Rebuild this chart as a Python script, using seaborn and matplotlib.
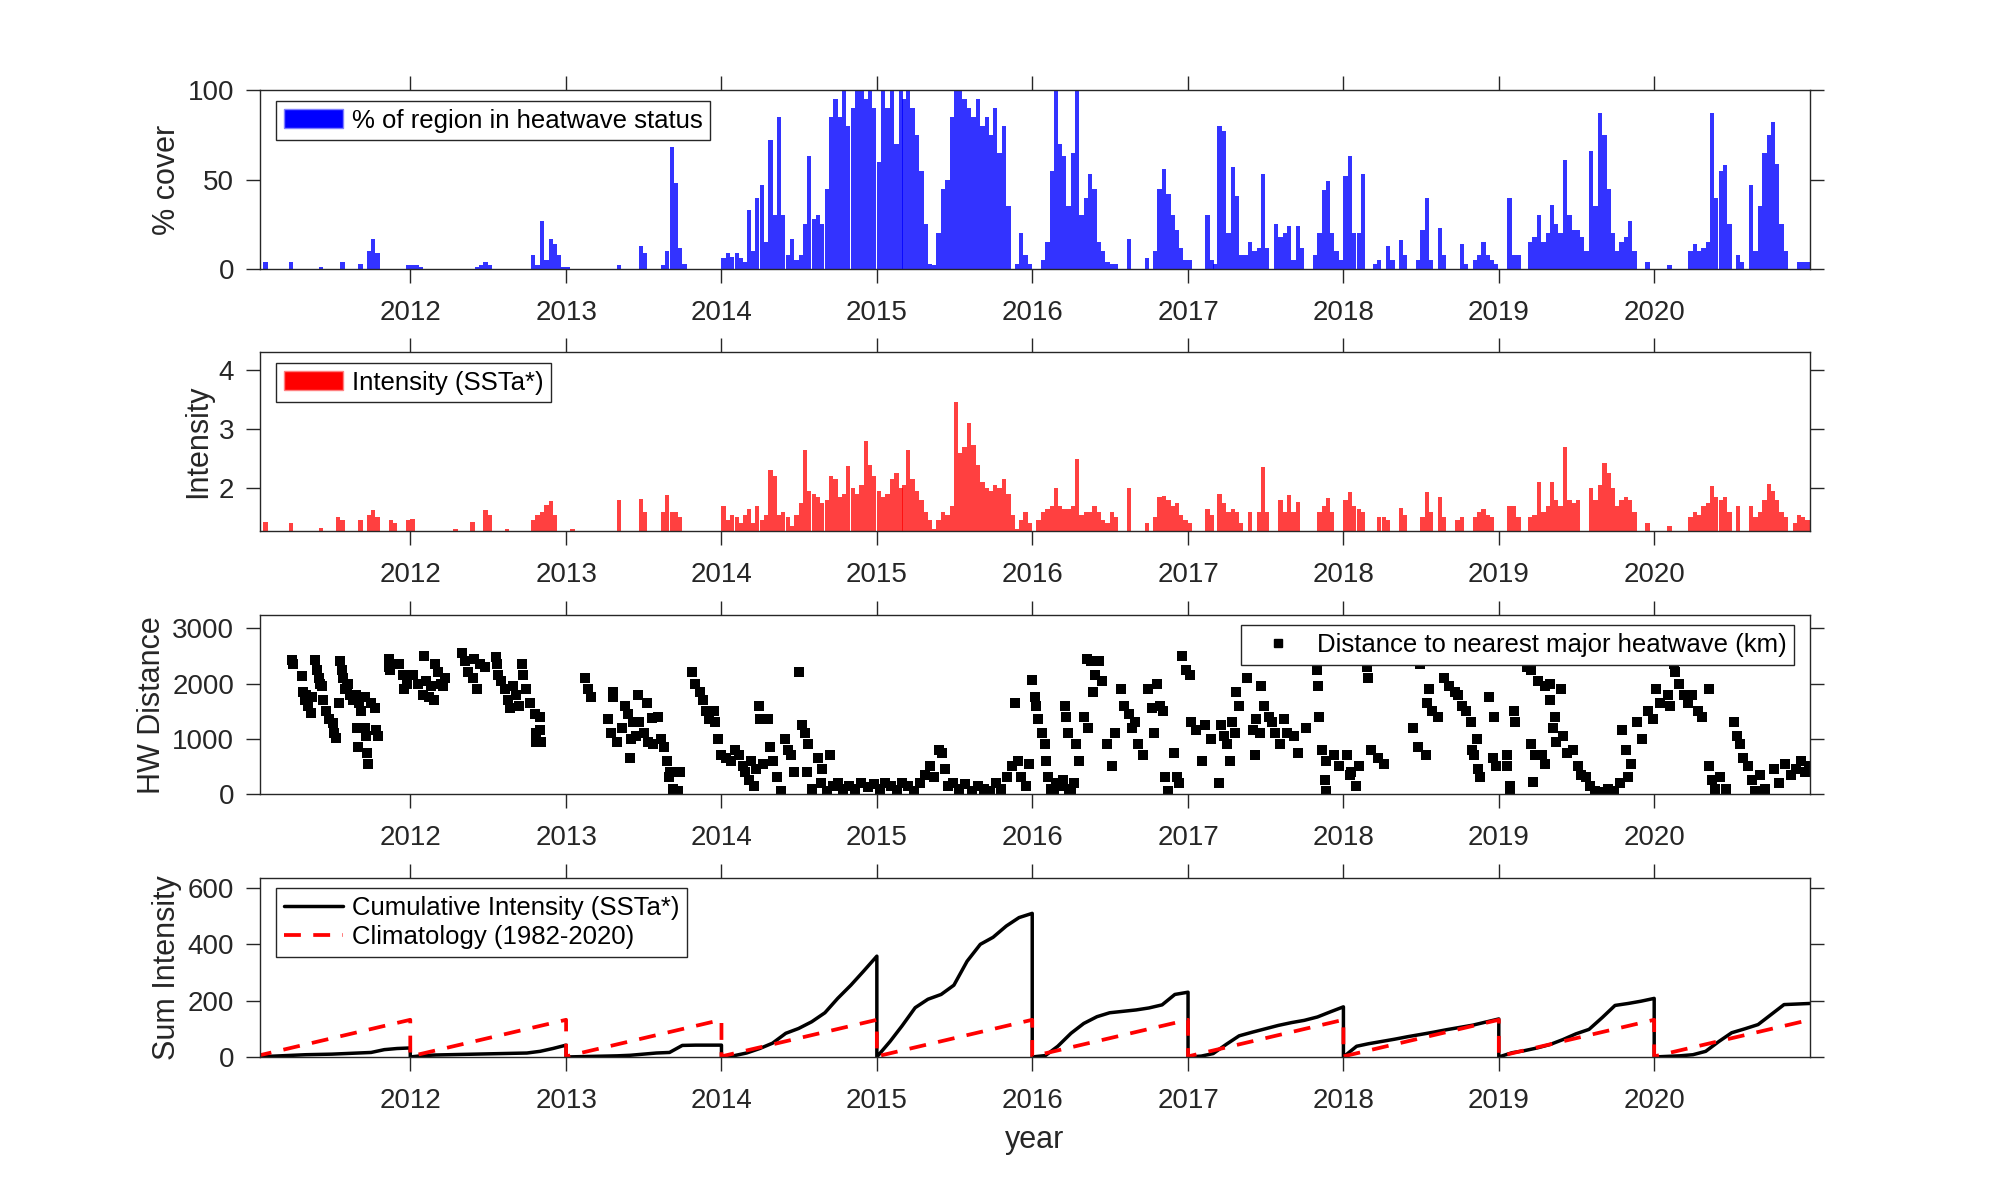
import numpy as np
import pandas as pd
import matplotlib
matplotlib.use("Agg")
import matplotlib.pyplot as plt
from matplotlib.patches import Patch
from matplotlib.lines import Line2D
import seaborn as sns

sns.set_theme(style="ticks")
plt.rcParams["font.family"] = ["Liberation Sans", "DejaVu Sans"]
plt.rcParams.update({"axes.edgecolor": "#262626", "xtick.color": "#262626",
                     "ytick.color": "#262626", "text.color": "#262626",
                     "axes.labelcolor": "#262626", "axes.linewidth": 1.0})

# ── DATA ───────────────────────────────────────────────────────
years = list(range(2011, 2021))

# % of region in heatwave status, 10-day (dekad) maxima, 36 per year
cover_2011 = [0,0,4,0,0,0, 0,0,4,0,0,0, 0,0,0,1,0,0, 0,0,4,0,0,0, 3,0,10,17,9,0, 0,0,0,0,0,2]
cover_2012 = [2,2,1,0,0,0, 0,0,0,0,0,0, 0,0,0,1,2,4, 2,0,0,0,0,0, 0,0,0,0,8,2, 27,5,17,14,8,1]
cover_2013 = [1,0,0,0,0,0, 0,0,0,0,0,0, 2,0,0,0,0,13, 9,0,0,0,2,10, 68,48,12,3,0,0, 0,0,0,0,0,0]
cover_2014 = [6,9,7,9,6,4, 33,10,40,47,15,72, 30,85,30,8,17,5, 8,25,63,28,30,25, 45,85,95,85,100,80, 90,100,100,95,100,90]
cover_2015 = [60,100,90,100,70,100, 95,100,90,75,55,25, 3,2,20,45,50,85, 100,100,95,90,85,95, 80,85,75,90,65,80, 35,0,3,20,8,3]
cover_2016 = [0,0,5,15,55,100, 70,63,35,65,100,30, 40,53,45,15,10,4, 3,3,0,0,17,0, 0,0,6,0,10,45, 56,42,30,22,12,5]
cover_2017 = [5,0,0,0,30,5, 3,80,77,20,57,41, 8,8,15,10,12,53, 12,0,25,18,20,24, 5,24,12,0,0,8, 20,44,49,20,10,5]
cover_2018 = [52,63,20,20,53,0, 0,3,5,0,13,5, 0,16,8,0,0,5, 22,40,5,0,23,8, 0,0,0,14,3,0, 5,8,15,8,5,3]
cover_2019 = [0,0,40,8,8,0, 0,15,18,30,15,20, 36,25,20,61,30,22, 22,18,10,66,35,87, 75,45,20,10,15,18, 27,10,0,0,4,0]
cover_2020 = [0,0,0,2,0,0, 0,0,10,14,10,12, 15,87,40,55,58,25, 0,8,4,0,47,10, 35,65,75,82,59,25, 10,0,0,4,4,4]

# heatwave intensity (SSTa*), dekad maxima, 0 = no heatwave
int_2011 = [0,0,1.42,0,0,0, 0,0,1.4,0,0,0, 0,0,0,1.32,0,0, 0,1.5,1.45,0,0,0, 1.45,0,1.55,1.63,1.5,0, 0,1.45,1.4,0,0,1.45]
int_2012 = [1.48,0,0,0,0,0, 0,0,0,0,1.3,0, 0,0,1.42,0,0,1.63, 1.55,0,0,0,1.3,0, 0,0,0,0,1.45,1.55, 1.6,1.72,1.78,1.55,0,0]
int_2013 = [0,1.3,0,0,0,0, 0,0,0,0,0,0, 1.8,0,0,0,0,1.82, 1.6,0,0,0,1.6,1.88, 1.6,1.6,1.5,0,0,0, 0,0,0,0,0,0]
int_2014 = [1.7,1.45,1.55,1.5,1.4,1.55, 1.65,1.4,1.7,1.45,1.55,2.3, 2.2,1.55,1.6,1.5,1.35,1.55,
            1.75,2.65,1.95,1.9,1.85,1.75, 1.8,2.2,2.15,1.85,1.9,2.37, 2.0,1.9,2.05,2.8,2.4,2.2]
int_2015 = [1.95,1.85,1.9,2.15,2.25,2.0, 2.05,2.64,2.15,1.95,1.8,1.6, 1.45,1.3,1.45,1.6,1.55,1.7,
            3.46,2.6,2.7,3.11,2.74,2.4, 2.1,2.0,1.95,2.05,2.0,2.15, 1.9,1.55,1.3,1.45,1.6,1.4]
int_2016 = [0,1.45,1.6,1.65,1.7,2.0, 1.7,1.65,1.65,1.7,2.5,1.55, 1.6,1.6,1.7,1.6,1.45,1.4,
            1.6,1.5,0,0,2.0,0, 0,0,1.4,0,1.5,1.85, 1.87,1.8,1.7,1.75,1.55,1.45]
int_2017 = [1.4,0,0,0,1.65,1.55, 0,1.9,1.75,1.6,1.65,1.6, 1.4,0,1.6,0,1.6,2.36,
            1.6,0,0,1.79,1.6,1.89, 1.6,1.76,0,0,0,0, 1.6,1.7,1.83,1.6,0,0]
int_2018 = [1.79,1.93,1.7,1.65,1.6,0, 0,0,1.5,1.5,1.45,0, 0,1.66,1.55,0,0,0,
            1.5,1.93,1.6,0,1.85,1.5, 0,0,1.45,1.5,0,0, 1.5,1.6,1.65,1.55,1.5,0]
int_2019 = [0,0,1.7,1.7,1.5,0, 0,1.5,1.55,2.1,1.6,1.7, 2.1,1.8,1.7,2.7,1.8,1.75,
            1.8,0,0,2.0,1.8,2.05, 2.42,2.25,2.0,1.7,1.8,1.85, 1.8,1.6,0,0,1.4,0]
int_2020 = [0,0,0,1.35,0,0, 0,0,1.5,1.6,1.55,1.7, 1.75,2.03,1.85,1.8,1.85,1.6,
            0,1.7,0,0,1.7,1.5, 1.6,1.8,2.07,1.95,1.8,1.6, 1.5,0,1.4,1.55,1.5,1.45]

# distance to nearest major heatwave: decimal year, km
hw_t = [2011.24,2011.245,2011.30,2011.31,2011.32,2011.33,2011.34,2011.36,2011.37,2011.39,2011.40,2011.41,2011.42,
        2011.43,2011.44,2011.46,2011.48,2011.50,2011.51,2011.52,2011.54,2011.55,2011.56,2011.57,2011.58,2011.59,
        2011.60,2011.61,2011.63,2011.65,2011.66,2011.665,2011.67,2011.68,2011.71,2011.71,2011.715,2011.72,2011.725,
        2011.75,2011.77,2011.78,2011.79,
        2011.86,2011.865,2011.87,2011.93,2011.95,2011.96,2011.98,2012.02,2012.05,2012.08,2012.09,2012.10,2012.12,
        2012.13,2012.15,2012.16,2012.18,2012.20,2012.21,2012.22,2012.33,2012.35,2012.37,2012.40,2012.41,2012.43,
        2012.45,2012.48,2012.55,2012.555,2012.56,2012.58,2012.61,2012.63,2012.64,2012.66,2012.68,2012.70,2012.72,
        2012.725,2012.74,2012.77,2012.80,2012.805,2012.81,2012.83,2012.835,2012.84,
        2013.12,2013.14,2013.16,2013.27,2013.29,2013.30,2013.305,2013.33,2013.36,2013.38,2013.40,2013.41,2013.42,
        2013.43,2013.45,2013.46,2013.47,2013.50,2013.52,2013.53,2013.55,2013.56,2013.59,2013.61,2013.63,2013.65,
        2013.66,2013.67,2013.69,2013.72,2013.73,
        2013.81,2013.83,2013.86,2013.88,2013.90,2013.92,2013.95,2013.96,2013.98,2014.00,2014.03,2014.06,2014.09,
        2014.11,2014.14,2014.15,2014.18,2014.19,2014.21,2014.22,2014.24,2014.245,2014.27,2014.30,2014.31,2014.33,
        2014.36,2014.38,2014.41,2014.43,2014.45,2014.47,2014.50,2014.52,2014.54,2014.55,2014.56,2014.58,2014.62,
        2014.64,2014.65,2014.68,2014.70,2014.72,2014.75,2014.78,2014.82,2014.86,2014.90,2014.94,2014.98,
        2015.02,2015.05,2015.09,2015.13,2015.16,2015.20,2015.24,2015.28,2015.31,2015.34,2015.37,2015.40,2015.42,
        2015.44,2015.46,2015.49,2015.53,2015.57,2015.61,2015.65,2015.69,2015.73,2015.77,2015.80,2015.84,2015.87,
        2015.89,2015.91,2015.93,2015.96,2015.98,
        2016.00,2016.02,2016.025,2016.04,2016.06,2016.08,2016.09,2016.10,2016.12,2016.14,2016.15,2016.17,2016.20,
        2016.21,2016.215,2016.23,2016.235,2016.25,2016.27,2016.28,2016.30,2016.33,2016.35,2016.36,2016.38,2016.39,
        2016.40,2016.43,2016.45,2016.48,2016.51,2016.53,2016.57,2016.59,2016.62,2016.64,2016.66,2016.68,2016.71,
        2016.74,2016.77,2016.78,2016.80,2016.82,2016.84,2016.85,2016.87,2016.91,2016.93,2016.94,2016.96,2016.99,
        2017.01,2017.02,2017.05,2017.09,2017.11,2017.15,2017.20,2017.21,2017.23,2017.25,2017.27,2017.28,2017.30,
        2017.31,2017.33,2017.38,2017.42,2017.43,2017.44,2017.46,2017.47,2017.49,2017.52,2017.54,2017.56,2017.59,
        2017.62,2017.64,2017.68,2017.71,2017.76,2017.83,2017.835,2017.84,2017.86,2017.88,2017.885,2017.89,2017.94,
        2017.97,
        2018.02,2018.04,2018.05,2018.08,2018.10,2018.15,2018.155,2018.18,2018.22,2018.26,2018.45,2018.48,2018.49,
        2018.53,2018.54,2018.55,2018.57,2018.61,2018.65,2018.68,2018.72,2018.74,2018.76,2018.79,2018.82,2018.83,
        2018.84,2018.86,2018.865,2018.88,2018.94,2018.96,2018.97,2018.98,
        2019.05,2019.055,2019.07,2019.075,2019.10,2019.105,2019.14,2019.18,2019.21,2019.21,2019.22,2019.23,2019.25,
        2019.28,2019.30,2019.30,2019.33,2019.33,2019.35,2019.36,2019.37,2019.40,2019.41,2019.44,2019.48,2019.51,
        2019.53,2019.56,2019.59,2019.62,2019.66,2019.70,2019.74,2019.78,2019.79,2019.82,2019.83,2019.85,2019.89,
        2019.92,2019.96,2019.99,
        2020.01,2020.04,2020.09,2020.10,2020.13,2020.135,2020.16,2020.19,2020.22,2020.24,2020.28,2020.31,2020.35,
        2020.35,2020.37,2020.39,2020.42,2020.46,2020.51,2020.53,2020.55,2020.57,2020.60,2020.63,2020.65,2020.68,
        2020.71,2020.77,2020.80,2020.84,2020.88,2020.91,2020.94,2020.97,2020.995]
hw_km = [2430,2350,2130,1850,1700,1800,1600,1470,1750,2420,2250,2100,2000,
         1950,1700,1500,1350,1280,1100,1020,1650,2400,2250,2100,1900,1950,
         2000,1800,1700,1800,1200,850,1650,1500,1750,1200,1050,750,550,
         1650,1550,1150,1050,
         2450,2300,2250,2350,2150,1900,2000,2150,2000,1800,2500,2050,1750,
         1950,1700,2350,2200,2000,1950,2100,2550,2400,2200,2100,2450,1900,
         2350,2300,2480,2350,2150,2050,1900,1700,1550,1950,1800,1600,2350,
         2150,1900,1650,1450,1100,950,1400,1150,950,
         2100,1900,1750,1350,1100,1850,1750,950,1200,1600,1450,650,1000,
         1300,1050,1800,1300,1100,1650,950,1370,900,1400,1000,850,600,
         300,400,100,50,400,
         2200,2000,1850,1700,1500,1350,1500,1300,1000,700,650,600,800,
         700,500,400,250,600,150,450,1600,1350,550,1350,850,600,
         300,50,1000,800,700,400,2200,1250,1100,400,900,100,650,
         200,450,50,700,150,200,100,150,100,200,120,180,
         100,200,150,80,200,150,60,200,350,500,300,800,750,
         450,150,200,100,180,60,150,100,50,200,100,300,500,
         1650,600,300,150,550,
         2070,1750,1600,1350,1100,900,600,300,100,50,200,150,250,
         1600,1400,1100,100,80,200,900,600,1400,2450,1200,2400,1850,
         2150,2400,2050,900,500,1100,1900,1600,1450,1200,1300,900,700,
         1900,1550,1100,2000,1600,1500,300,50,750,300,200,2500,2250,
         2150,1300,1150,600,1250,1000,200,1250,1050,900,600,1300,1100,
         1850,1600,2100,1150,700,1350,1100,1950,1600,1400,1300,1100,900,
         1350,1100,1050,750,1200,2250,1950,1400,800,250,50,600,700,
         500,
         700,350,400,150,500,2300,2100,800,650,550,1200,850,2350,
         700,1650,1900,1500,1400,2100,1950,1850,1800,1600,1500,1300,800,
         700,1000,450,300,1750,650,1400,500,
         700,500,150,50,1500,1300,2450,2300,2250,900,220,700,2050,
         700,1950,550,2000,1700,1200,1400,950,1900,1050,750,800,500,
         350,300,150,50,30,100,50,200,1150,800,300,550,1300,
         1000,1500,1350,
         1900,1650,1800,1600,2350,2200,2000,1800,1650,1800,1500,1400,1900,
         500,250,100,300,100,1300,1050,900,650,500,250,50,350,
         100,450,200,550,350,450,600,400,500]

# cumulative intensity on the 1st of each month, Jan 1 .. next Jan 1
cum_2011 = [0,2,4,6,8,9,10,12,14,16,26,30,32]
cum_2012 = [0,5,7,8,9,10,11,12,13,14,20,30,42]
cum_2013 = [0,1,2,3,4,6,10,14,16,41,42,42,42]
cum_2014 = [0,5,14,30,49,84,101,125,157,208,255,305,358]
cum_2015 = [0,55,110,175,205,222,255,340,400,425,465,495,510]
cum_2016 = [0,5,38,84,119,143,157,162,167,174,185,222,230]
cum_2017 = [0,3,12,45,75,88,100,112,122,130,142,160,178]
cum_2018 = [0,38,47,55,63,72,80,88,97,105,113,124,135]
cum_2019 = [0,15,22,32,44,62,82,98,140,183,190,198,208]
cum_2020 = [0,2,4,8,20,55,86,100,115,150,186,188,190]

# climatology (1982-2020) of the cumulative intensity: Jan 1 and Dec 31
clim_vals = [2, 132]

cover_all = [cover_2011, cover_2012, cover_2013, cover_2014, cover_2015,
             cover_2016, cover_2017, cover_2018, cover_2019, cover_2020]
int_all = [int_2011, int_2012, int_2013, int_2014, int_2015,
           int_2016, int_2017, int_2018, int_2019, int_2020]
cum_all = [cum_2011, cum_2012, cum_2013, cum_2014, cum_2015,
           cum_2016, cum_2017, cum_2018, cum_2019, cum_2020]

# ── helpers
def dekads(y):
    return [pd.Timestamp(y, i // 3 + 1, (1, 11, 21)[i % 3]) for i in range(36)]

def yr2date(t):
    y = int(t)
    a, b = pd.Timestamp(y, 1, 1), pd.Timestamp(y + 1, 1, 1)
    return a + (b - a) * (t - y)

dk_dates = [d for y in years for d in dekads(y)]
cover = [v for row in cover_all for v in row]
inten = [v for row in int_all for v in row]
hw_dates = [yr2date(t) for t in hw_t]

cum_x, cum_y, clim_x, clim_y = [], [], [], []
for y, vals in zip(years, cum_all):
    cum_x += [pd.Timestamp(y, m, 1) for m in range(1, 13)] + [pd.Timestamp(y + 1, 1, 1)]
    cum_y += vals
    clim_x += [pd.Timestamp(y, 1, 1), pd.Timestamp(y + 1, 1, 1)]
    clim_y += clim_vals

INK = "#262626"
XLIM = (pd.Timestamp(2011, 1, 13), pd.Timestamp(2021, 1, 1))
XTICKS = [pd.Timestamp(y, 1, 1) for y in range(2012, 2021)]

fig = plt.figure(figsize=(20, 12), dpi=100)
bottoms = [0.7758, 0.5575, 0.3383, 0.1192]
axes = [fig.add_axes([0.13, b, 0.775, 0.149]) for b in bottoms]

def style(ax, ylabel, yticks, ylim):
    ax.set_xlim(*XLIM)
    ax.set_ylim(*ylim)
    ax.set_xticks(XTICKS)
    ax.set_xticklabels([str(d.year) for d in XTICKS])
    ax.set_yticks(yticks)
    ax.set_yticklabels([str(v) for v in yticks])
    ax.tick_params(axis="both", direction="out", length=10, width=1, labelsize=20,
                   top=True, right=True, colors=INK)
    ax.tick_params(axis="x", pad=12)
    ax.tick_params(axis="y", pad=8.5)
    ax.set_ylabel(ylabel, fontsize=22, labelpad=4, color=INK)
    ax.set_xlabel("")
    for s in ax.spines.values():
        s.set_visible(True); s.set_color(INK); s.set_linewidth(1.0)

def legend(ax, handles, labels, loc, anchor, **kw):
    leg = ax.legend(handles, labels, loc=loc, bbox_to_anchor=anchor, borderaxespad=0,
                    fontsize=18.5, frameon=True, fancybox=False, framealpha=1,
                    edgecolor=INK, borderpad=0.3, handletextpad=0.35,
                    handlelength=2.3, **kw)
    leg.get_frame().set_linewidth(1.0)
    for t in leg.get_texts():
        t.set_color("black")
    return leg

# Panel 1 – % cover
ax1 = axes[0]
ax1.bar(dk_dates, cover, width=10, align="edge", color="#0000ff", alpha=0.8, linewidth=0)
style(ax1, "% cover", [0, 50, 100], (0, 100))
legend(ax1, [Patch(facecolor="#0000ff", edgecolor="#8080ff")], ["% of region in heatwave status"],
       "upper left", (0.0103, 0.94), handleheight=0.75)

# Panel 2 – intensity
ax2 = axes[1]
ax2.bar(dk_dates, inten, width=10, align="edge", color="#ff0000", alpha=0.75, linewidth=0)
style(ax2, "Intensity", [2, 3, 4], (1.27, 4.31))
legend(ax2, [Patch(facecolor="#ff0000", edgecolor="#ff8080")], ["Intensity (SSTa*)"],
       "upper left", (0.0103, 0.94), handleheight=0.75)

# Panel 3 – distance scatter
ax3 = axes[2]
sns.scatterplot(x=hw_dates, y=hw_km, ax=ax3, marker="s", s=42, color="black",
                linewidth=0, legend=False)
style(ax3, "HW Distance", [0, 1000, 2000, 3000], (0, 3236))
legend(ax3, [Line2D([], [], ls="none", marker="s", ms=6.3, color="black")],
       ["Distance to nearest major heatwave (km)"], "upper right", (0.9897, 0.944))

# Panel 4 – cumulative intensity vs climatology
ax4 = axes[3]
sns.lineplot(x=cum_x, y=cum_y, ax=ax4, estimator=None, sort=False, color="black",
             linewidth=2.5)
sns.lineplot(x=clim_x, y=clim_y, ax=ax4, estimator=None, sort=False, color="#ff0000",
             linewidth=2.7)
ax4.lines[-1].set_dashes((4.5, 3.3))
style(ax4, "Sum Intensity", [0, 200, 400, 600], (0, 635))
ax4.set_xlabel("year", fontsize=22, labelpad=8, color=INK)
legend(ax4, [Line2D([], [], color="black", lw=2.5),
             Line2D([], [], color="#ff0000", lw=2.7, dashes=(4.5, 3.3))],
       ["Cumulative Intensity (SSTa*)", "Climatology (1982-2020)"],
       "upper left", (0.0103, 0.944), labelspacing=0.2)

fig.savefig("out.png", dpi=100, facecolor="white")
plt.close(fig)
